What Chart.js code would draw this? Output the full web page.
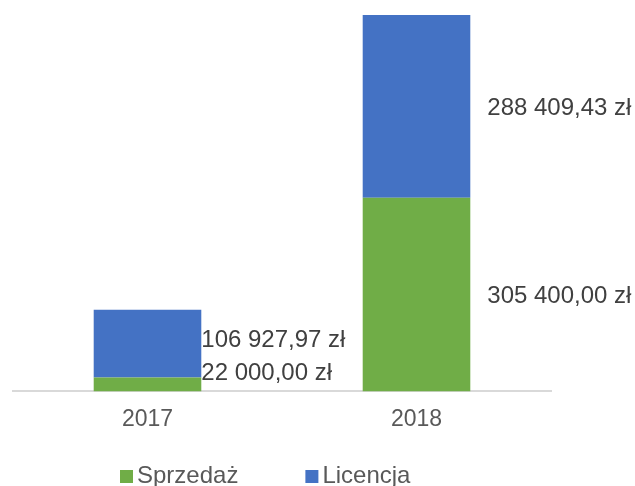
<!DOCTYPE html>
<html>
<head>
<meta charset="utf-8">
<script src="https://cdn.jsdelivr.net/npm/chart.js@4"></script>
<style>
  html, body { margin: 0; padding: 0; background: #fff; }
  #wrap { width: 635px; height: 486px; position: relative; }
</style>
</head>
<body>
<div id="wrap"><canvas id="chart"></canvas></div>
<script>
// Values
const years = ['2017', '2018'];
const sprzedaz = [22000.00, 305400.00];
const licencja = [106927.97, 288409.43];

const FONT = '"Liberation Sans", Arial, sans-serif';
const GREEN = '#70AD47';
const BLUE = '#4472C4';

// "106 927,97 zł"
function formatPln(v) {
    const parts = v.toFixed(2).split('.');
    const whole = parts[0].replace(/\B(?=(\d{3})+(?!\d))/g, ' ');
    return whole + ',' + parts[1] + ' zł';
}

// Value labels to the right of each stacked segment, pushed up when they would collide
const valueLabels = {
    id: 'valueLabels',
    afterDatasetsDraw(chart) {
        const ctx = chart.ctx;
        const area = chart.chartArea;
        const xOffset = [0, 17];
        ctx.save();
        ctx.font = '24px ' + FONT;
        ctx.fillStyle = '#404040';
        ctx.textAlign = 'left';
        ctx.textBaseline = 'middle';
        chart.data.labels.forEach((lab, j) => {
            let limit = area.bottom - 20;
            chart.data.datasets.forEach((ds, i) => {
                const bar = chart.getDatasetMeta(i).data[j];
                const center = (bar.y + bar.base) / 2;
                const y = Math.min(center, limit);
                // +2: digits sit a little high with a 'middle' baseline
                ctx.fillText(formatPln(ds.data[j]), bar.x + bar.width / 2 + xOffset[j], y + 2);
                limit = y - 33;
            });
        });
        ctx.restore();
    }
};

// Legend drawn under the axis, Excel style (square + text)
const bottomLegend = {
    id: 'bottomLegend',
    afterDraw(chart) {
        const ctx = chart.ctx;
        ctx.save();
        ctx.font = '24px ' + FONT;
        ctx.textBaseline = 'alphabetic';
        ctx.textAlign = 'left';
        let x = 120;
        const baseY = 483;
        chart.data.datasets.forEach(ds => {
            ctx.fillStyle = ds.backgroundColor;
            ctx.fillRect(x, baseY - 13, 13, 13);
            ctx.fillStyle = '#595959';
            ctx.fillText(ds.label, x + 17, baseY);
            x += 17 + ctx.measureText(ds.label).width + 67;
        });
        ctx.restore();
    }
};

new Chart(document.getElementById('chart'), {
    type: 'bar',
    data: {
        labels: years,
        datasets: [
            { label: 'Sprzedaż', data: sprzedaz, backgroundColor: GREEN, borderWidth: 0 },
            { label: 'Licencja', data: licencja, backgroundColor: BLUE, borderWidth: 0 }
        ]
    },
    options: {
        responsive: true,
        maintainAspectRatio: false,
        animation: false,
        layout: { padding: { top: 15, left: 13, right: 84, bottom: 39 } },
        datasets: { bar: { categoryPercentage: 1.0, barPercentage: 0.4 } },
        plugins: {
            legend: { display: false },
            tooltip: { enabled: false }
        },
        scales: {
            x: {
                stacked: true,
                grid: { display: false, drawTicks: false },
                border: { display: true, color: '#d9d9d9', width: 2 },
                ticks: { color: '#595959', font: { family: FONT, size: 23 }, padding: 14 }
            },
            y: {
                stacked: true,
                display: false,
                min: 0,
                max: sprzedaz[1] + licencja[1]
            }
        }
    },
    plugins: [valueLabels, bottomLegend]
});
</script>
</body>
</html>
